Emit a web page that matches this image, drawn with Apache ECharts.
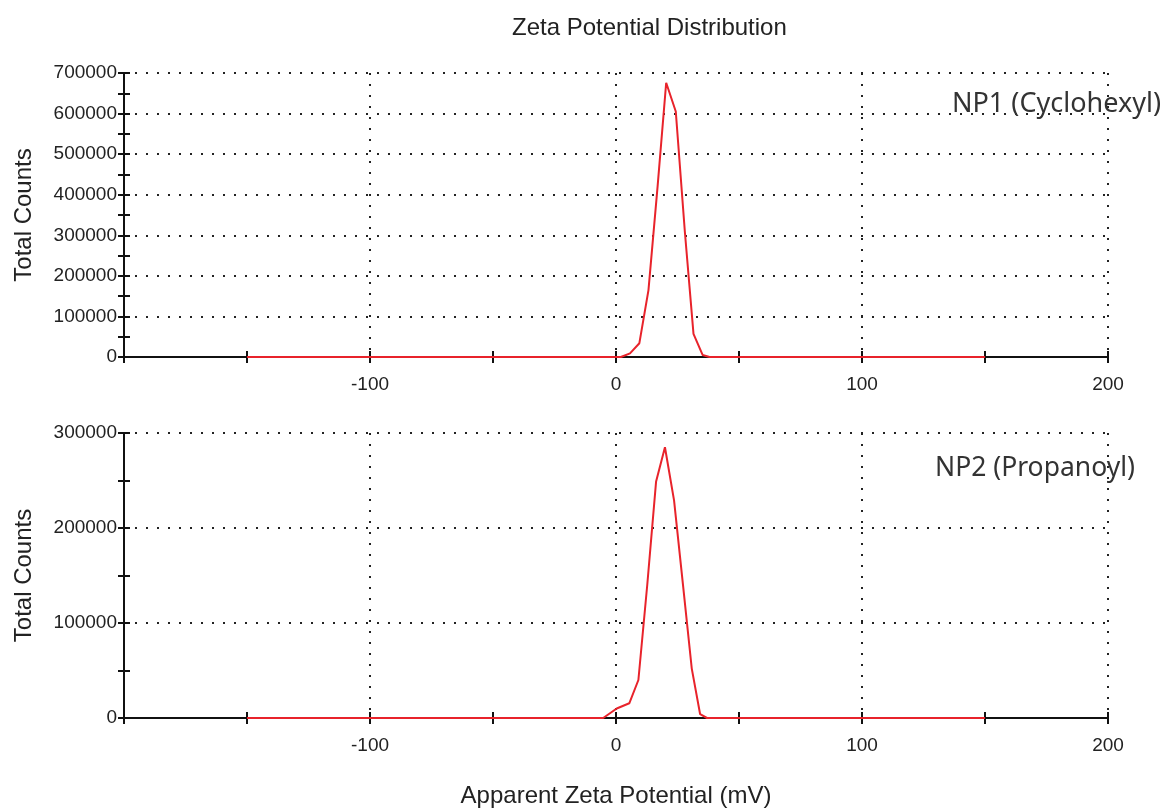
<!DOCTYPE html>
<html>
<head>
<meta charset="utf-8">
<script src="https://cdn.jsdelivr.net/npm/echarts@6/dist/echarts.min.js"></script>
<style>
html,body{margin:0;padding:0;background:#fff;}
#c{width:1166px;height:811px;}
</style>
</head>
<body>
<div id="c"></div>
<script>
// ---- data ----
const np1Zeta   = [-150, 2, 5.7, 9.5, 13.2, 16.9, 20.4, 24.3, 28, 31.5, 35.2, 38, 150];
const np1Counts = [0, 0, 9000, 34000, 165000, 420000, 676000, 605000, 308000, 57000, 5000, 0, 0];
const np2Zeta   = [-150, -5.2, 0.3, 5.4, 9.1, 12.7, 16.3, 19.9, 23.6, 27.2, 30.8, 34.2, 37, 150];
const np2Counts = [0, 0, 10000, 15500, 40000, 140000, 249000, 285000, 229000, 141000, 52000, 4000, 0, 0];
const titleText = 'Zeta Potential Distribution';
const yName = 'Total Counts';
const xName = 'Apparent Zeta Potential (mV)';
const label1 = 'NP1 (Cyclohexyl)';
const label2 = 'NP2 (Propanoyl)';

const pairs = (xs, ys) => xs.map((x, i) => [x, ys[i]]);

const FONT = '"Liberation Sans", Arial, sans-serif';
const dotted = {color: '#222', width: 2, type: [2, 9]};
const tickStyle = {color: '#111', width: 2};

function xMain(gridIndex, withName) {
  return {
    type: 'value', gridIndex, min: -200, max: 200, interval: 100, position: 'bottom',
    axisLine: {show: true, onZero: false, lineStyle: {color: '#111', width: 2}},
    axisTick: {show: true, length: 6, lineStyle: tickStyle},
    minorTick: {show: true, splitNumber: 2, length: 6, lineStyle: tickStyle},
    splitLine: {show: true, lineStyle: dotted},
    minorSplitLine: {show: false},
    axisLabel: {show: true, margin: 18, color: '#222', fontSize: 19, fontFamily: FONT, showMinLabel: false,
                formatter: v => String(v)},
    name: withName ? xName : '', nameLocation: 'middle', nameGap: 66,
    nameTextStyle: {color: '#222', fontSize: 24, fontFamily: FONT}
  };
}
function xInner(gridIndex) {
  return {
    type: 'value', gridIndex, min: -200, max: 200, interval: 100, position: 'bottom', offset: 0,
    axisLine: {show: false, onZero: false},
    axisTick: {show: true, inside: true, length: 6, lineStyle: tickStyle},
    minorTick: {show: true, splitNumber: 2, length: 6, lineStyle: tickStyle},
    splitLine: {show: false}, axisLabel: {show: false}
  };
}
function yMain(gridIndex, max) {
  return {
    type: 'value', gridIndex, min: 0, max, interval: 100000, position: 'left',
    axisLine: {show: true, onZero: false, lineStyle: {color: '#111', width: 2}},
    axisTick: {show: true, length: 6, lineStyle: tickStyle},
    minorTick: {show: true, splitNumber: 2, length: 6, lineStyle: tickStyle},
    splitLine: {show: true, lineStyle: dotted},
    axisLabel: {show: true, margin: 7, color: '#222', fontSize: 19, fontFamily: FONT,
                formatter: v => String(v)},
    name: yName, nameLocation: 'middle', nameGap: 88,
    nameTextStyle: {color: '#222', fontSize: 24, fontFamily: FONT}
  };
}
function yInner(gridIndex, max) {
  return {
    type: 'value', gridIndex, min: 0, max, interval: 100000, position: 'left', offset: 0,
    axisLine: {show: false, onZero: false},
    axisTick: {show: true, inside: true, length: 6, lineStyle: tickStyle},
    minorTick: {show: true, splitNumber: 2, length: 6, lineStyle: tickStyle},
    splitLine: {show: false}, axisLabel: {show: false}
  };
}

const chart = echarts.init(document.getElementById('c'), null, {renderer: 'canvas'});
chart.setOption({
  animation: false,
  backgroundColor: '#fff',
  title: [
    {text: titleText, left: 507, top: 11, textStyle: {fontSize: 24, fontWeight: 'normal', color: '#222', fontFamily: FONT}},
    {text: label1, left: 947, top: 86, textStyle: {fontSize: 27, fontWeight: 'normal', color: '#333', fontFamily: '"Noto Sans", sans-serif'}},
    {text: label2, left: 930, top: 450, textStyle: {fontSize: 26.5, fontWeight: 'normal', color: '#333', fontFamily: '"Noto Sans", sans-serif'}}
  ],
  grid: [
    {left: 124, width: 984, top: 73, height: 284},
    {left: 124, width: 984, top: 433, height: 285}
  ],
  xAxis: [xMain(0, false), xInner(0), xMain(1, true), xInner(1)],
  yAxis: [yMain(0, 700000), yInner(0, 700000), yMain(1, 300000), yInner(1, 300000)],
  series: [
    {type: 'line', xAxisIndex: 0, yAxisIndex: 0, data: pairs(np1Zeta, np1Counts),
     showSymbol: false, symbol: 'none', lineStyle: {color: '#e8232b', width: 2}, z: 5},
    {type: 'line', xAxisIndex: 2, yAxisIndex: 2, data: pairs(np2Zeta, np2Counts),
     showSymbol: false, symbol: 'none', lineStyle: {color: '#e8232b', width: 2}, z: 5}
  ]
});
</script>
</body>
</html>
